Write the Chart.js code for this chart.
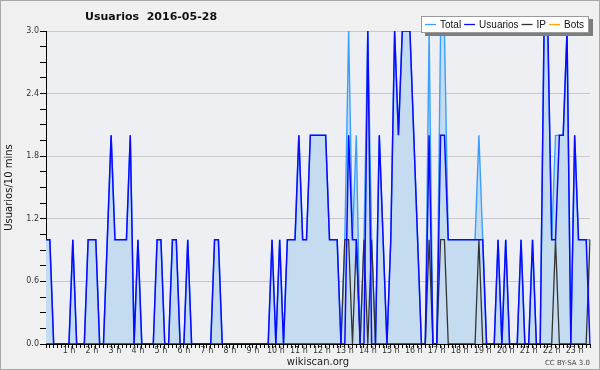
<!DOCTYPE html>
<html>
<head>
<meta charset="utf-8">
<script src="https://cdn.jsdelivr.net/npm/chart.js@4.4.0/dist/chart.umd.min.js"></script>
<style>
  html, body { margin: 0; padding: 0; background: #f0f0f0; }
  #wrap { position: relative; width: 600px; height: 370px; background: #f0f0f0; }
  #wrap::after { content: ""; position: absolute; left: 0; top: 0; right: 0; bottom: 0; border: 1px solid #a8a8a8; pointer-events: none; }
  canvas { display: block; }
</style>
</head>
<body>
<div id="wrap"><canvas id="chart"></canvas></div>
<script>
const chartTitle = "Usuarios  2016-05-28";
const yTitle = "Usuarios/10 mins";
const xTitle = "wikiscan.org";
const license = "CC BY-SA 3.0";
const seriesNames = ["Total", "Usuarios", "IP", "Bots"];
const hourTicks = ["1 h", "2 h", "3 h", "4 h", "5 h", "6 h", "7 h", "8 h", "9 h", "10 h", "11 h", "12 h",
  "13 h", "14 h", "15 h", "16 h", "17 h", "18 h", "19 h", "20 h", "21 h", "22 h", "23 h"];

// one slot per 10 minutes
const slots = [];
for (let m = 0; m < 143 * 10; m += 10) {
  slots.push(String(Math.floor(m / 60)).padStart(2, "0") + ":" + String(m % 60).padStart(2, "0"));
}

const total = [
  1,1,0,0,0,0,0,1,0,0,
  0,1,1,1,0,0,1,2,1,1,
  1,1,2,0,1,0,0,0,0,1,
  1,0,0,1,1,0,0,1,0,0,
  0,0,0,0,1,1,0,0,0,0,
  0,0,0,0,0,0,0,0,0,1,
  0,1,0,1,1,1,2,1,1,2,
  2,2,2,2,1,1,1,0,1,3,
  1,2,0,1,3,1,0,2,1,0,
  1,3,2,3,3,3,2,1,0,0,
  3,0,0,3,3,1,1,1,1,1,
  1,1,1,2,1,0,0,0,1,0,
  1,0,0,0,1,0,0,1,0,0,
  3,3,1,2,2,2,3,0,2,1,
  1,1,1
];
const usuarios = [
  1,1,0,0,0,0,0,1,0,0,
  0,1,1,1,0,0,1,2,1,1,
  1,1,2,0,1,0,0,0,0,1,
  1,0,0,1,1,0,0,1,0,0,
  0,0,0,0,1,1,0,0,0,0,
  0,0,0,0,0,0,0,0,0,1,
  0,1,0,1,1,1,2,1,1,2,
  2,2,2,2,1,1,1,0,0,2,
  1,1,0,0,3,0,0,2,1,0,
  1,3,2,3,3,3,2,1,0,0,
  2,0,0,2,2,1,1,1,1,1,
  1,1,1,1,1,0,0,0,1,0,
  1,0,0,0,1,0,0,1,0,0,
  3,3,1,1,2,2,3,0,2,1,
  1,1,0
];
const ip = [
  0,0,0,0,0,0,0,0,0,0,
  0,0,0,0,0,0,0,0,0,0,
  0,0,0,0,0,0,0,0,0,0,
  0,0,0,0,0,0,0,0,0,0,
  0,0,0,0,0,0,0,0,0,0,
  0,0,0,0,0,0,0,0,0,0,
  0,0,0,0,0,0,0,0,0,0,
  0,0,0,0,0,0,0,0,1,1,
  0,1,0,1,0,1,0,0,0,0,
  0,0,0,0,0,0,0,0,0,0,
  1,0,0,1,1,0,0,0,0,0,
  0,0,0,1,0,0,0,0,0,0,
  0,0,0,0,0,0,0,0,0,0,
  0,0,0,1,0,0,0,0,0,0,
  0,0,1
];
const bots = [
  0,0,0,0,0,0,0,0,0,0,
  0,0,0,0,0,0,0,0,0,0,
  0,0,0,0,0,0,0,0,0,0,
  0,0,0,0,0,0,0,0,0,0,
  0,0,0,0,0,0,0,0,0,0,
  0,0,0,0,0,0,0,0,0,0,
  0,0,0,0,0,0,0,0,0,0,
  0,0,0,0,0,0,0,0,0,0,
  0,0,0,0,0,0,0,0,0,0,
  0,0,0,0,0,0,0,0,0,0,
  0,0,0,0,0,0,0,0,0,0,
  0,0,0,0,0,0,0,0,0,0,
  0,0,0,0,0,0,0,0,0,0,
  0,0,0,0,0,0,0,0,0,0,
  0,0,0
];

const colors = ["#3a9fff", "#0a0aff", "#333333", "#ffa500"];

const isMajor = (v) => Math.abs(v / 0.6 - Math.round(v / 0.6)) < 1e-6;

const decor = {
  id: "decor",
  beforeDraw(chart) {
    const { ctx, chartArea: a } = chart;
    ctx.save();
    ctx.fillStyle = "#edeff2";
    ctx.fillRect(a.left, a.top, a.right - a.left, a.bottom - a.top);
    ctx.restore();
  },
  afterDraw(chart) {
    const ctx = chart.ctx;
    ctx.save();
    ctx.textBaseline = "middle";
    ctx.fillStyle = "#111";
    ctx.font = 'bold 11px "DejaVu Sans"';
    ctx.fillText(chartTitle, 85, 17);

    // legend box with shadow
    ctx.fillStyle = "#7d7d7d";
    ctx.fillRect(425, 19, 168, 17);
    ctx.fillStyle = "#ffffff";
    ctx.fillRect(421, 16, 168, 17);
    ctx.strokeStyle = "#9a9a9a";
    ctx.lineWidth = 1;
    ctx.strokeRect(421.5, 16.5, 167, 16);
    ctx.font = '10px "Liberation Sans"';
    let x = 425;
    seriesNames.forEach((name, i) => {
      ctx.strokeStyle = colors[i];
      ctx.lineWidth = 1.3;
      ctx.beginPath();
      ctx.moveTo(x, 24.5);
      ctx.lineTo(x + 11, 24.5);
      ctx.stroke();
      x += 15;
      ctx.fillStyle = "#111";
      ctx.fillText(name, x, 25);
      x += ctx.measureText(name).width + 3;
    });

    ctx.font = '7px "DejaVu Sans"';
    ctx.fillStyle = "#444";
    ctx.textAlign = "right";
    ctx.fillText(license, 590, 363);
    ctx.restore();
  }
};

const line = (label, data, i, extra) => Object.assign({
  label: label,
  data: data,
  borderColor: colors[i],
  borderWidth: 1.4,
  pointRadius: 0,
  tension: 0,
  fill: false,
}, extra);

new Chart(document.getElementById("chart"), {
  type: "line",
  data: {
    labels: slots,
    datasets: [
      line(seriesNames[0], total, 0, { fill: "origin", backgroundColor: "#c5dcf0", order: 4 }),
      line(seriesNames[1], usuarios, 1, { borderWidth: 1.5, order: 1 }),
      line(seriesNames[2], ip, 2, { borderWidth: 1.3, order: 2 }),
      line(seriesNames[3], bots, 3, { borderWidth: 1.2, order: 3 }),
    ],
  },
  options: {
    responsive: true,
    maintainAspectRatio: false,
    animation: false,
    events: [],
    layout: { padding: { top: 31, right: 10, left: 0, bottom: 0 } },
    plugins: {
      legend: { display: false },
      title: { display: false },
      tooltip: { enabled: false },
    },
    scales: {
      x: {
        z: 1,
        offset: false,
        grid: { drawOnChartArea: false, color: "#000", tickColor: "#000", tickLength: 4 },
        border: { color: "#000", width: 1 },
        ticks: {
          autoSkip: false,
          maxRotation: 0,
          minRotation: 0,
          padding: -2,
          color: "#333",
          font: { family: "DejaVu Sans", size: 8 },
          callback: (v, i) => (i > 0 && i % 6 === 0 ? hourTicks[i / 6 - 1] : ""),
        },
        title: {
          display: true,
          text: xTitle,
          color: "#222",
          font: { family: "DejaVu Sans", size: 10 },
          padding: { top: 0, bottom: 2 },
        },
        afterFit: (s) => { s.height = 26; },
      },
      y: {
        z: 1,
        min: 0,
        max: 3,
        grid: {
          color: (c) => (isMajor(c.tick.value) ? "#c8c8c8" : "rgba(0,0,0,0)"),
          tickColor: "#000",
          tickLength: 6,
        },
        border: { color: "#000", width: 1 },
        ticks: {
          stepSize: 0.15,
          maxTicksLimit: 25,
          padding: 1,
          color: "#333",
          font: { family: "DejaVu Sans", size: 8 },
          callback: (v) => (isMajor(v) ? v.toFixed(1) : ""),
        },
        title: {
          display: true,
          text: yTitle,
          color: "#111",
          font: { family: "DejaVu Sans", size: 10 },
          padding: { top: 3, bottom: 0 },
        },
        afterFit: (s) => { s.width = 46; },
      },
    },
  },
  plugins: [decor],
});
</script>
</body>
</html>
